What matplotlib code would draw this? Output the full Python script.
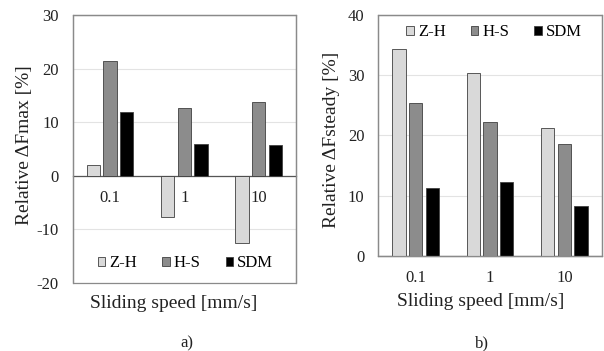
import matplotlib
matplotlib.use("Agg")
import matplotlib.pyplot as plt
import numpy as np
from matplotlib.patches import Rectangle

plt.rcParams['font.family'] = ['Liberation Serif', 'DejaVu Serif']

categories = ["0.1", "1", "10"]
series = ["Z-H", "H-S", "SDM"]
max_zh = [2.1, -7.7, -12.5]
max_hs = [21.4, 12.6, 13.8]
max_sdm = [11.9, 5.9, 5.8]
steady_zh = [34.4, 30.4, 21.3]
steady_hs = [25.3, 22.2, 18.6]
steady_sdm = [11.3, 12.2, 8.2]

colors = ["#d9d9d9", "#8c8c8c", "#000000"]
W, H = 604, 351
fig = plt.figure(figsize=(W / 100, H / 100), dpi=100)

def px_axes(x0, x1, ytop, ybot):
    return fig.add_axes([x0 / W, (H - ybot) / H, (x1 - x0) / W, (ybot - ytop) / H])

def draw(ax, data, ylim, yticks):
    x = np.arange(len(categories))
    bw = 0.18
    step = 0.224
    for k, (vals, c) in enumerate(zip(data, colors)):
        ax.bar(x + (k - 1) * step, vals, bw, color=c, edgecolor="#404040",
               linewidth=0.6, label=series[k], zorder=3)
    ax.set_xlim(-0.5, len(categories) - 0.5)
    ax.set_ylim(*ylim)
    ax.set_yticks(yticks)
    ax.set_yticklabels([str(t) for t in yticks], fontsize=12)
    ax.yaxis.grid(True, color="#e3e3e3", linewidth=0.8, zorder=0)
    ax.set_axisbelow(True)
    ax.tick_params(axis="both", length=0, colors="#222222")
    ax.tick_params(axis="y", pad=10)
    for s in ["top", "right", "left"]:
        ax.spines[s].set_color("#8a8a8a")
        ax.spines[s].set_linewidth(0.9)
    ax.spines["bottom"].set_position(("data", 0))
    ax.spines["bottom"].set_color("#555555")
    ax.spines["bottom"].set_linewidth(0.9)
    ax.set_xticks(x)
    ax.set_xticklabels(categories, fontsize=12)
    ax.tick_params(axis="x", pad=10)
    ax.add_patch(Rectangle((0, 0), 1, 1, transform=ax.transAxes, fill=False,
                           edgecolor="#8a8a8a", linewidth=0.9, zorder=5, clip_on=False))

leg_kw = dict(ncol=3, loc="center", frameon=False, fontsize=12, handlelength=0.45,
              handleheight=0.45, handletextpad=0.25, columnspacing=1.5, borderaxespad=0)

ax1 = px_axes(72.7, 296, 15, 283)
draw(ax1, [max_zh, max_hs, max_sdm], (-20, 30), [30, 20, 10, 0, -10, -20])
ax1.legend(bbox_to_anchor=(0.505, (283 - 263) / 268), **leg_kw)

ax2 = px_axes(378.3, 601.7, 15, 255.7)
draw(ax2, [steady_zh, steady_hs, steady_sdm], (0, 40), [0, 10, 20, 30, 40])
ax2.legend(bbox_to_anchor=(0.518, (255.7 - 32) / 240.7), **leg_kw)

def ftext(x, y, s, **kw):
    fig.text(x / W, 1 - y / H, s, ha="center", va="center", color="#222222", **kw)

ftext(174, 303, "Sliding speed [mm/s]", fontsize=14)
ftext(481, 302, "Sliding speed [mm/s]", fontsize=14)
ftext(25, 145, "Relative ΔFmax [%]", fontsize=14, rotation=90)
ftext(332, 140, "Relative ΔFsteady [%]", fontsize=14, rotation=90)
ftext(187, 343, "a)", fontsize=12)
ftext(482, 343, "b)", fontsize=12)

fig.savefig("out.png", dpi=100, facecolor="white")
